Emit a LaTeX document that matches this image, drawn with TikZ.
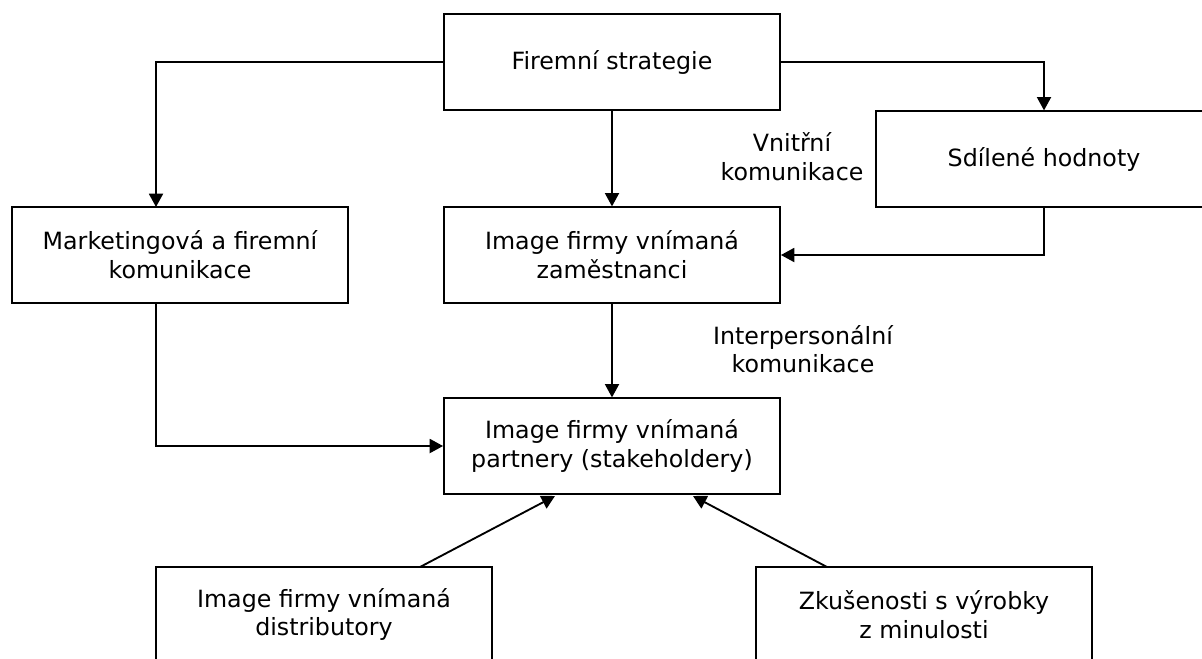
\documentclass[tikz,border=0pt]{standalone}
\usepackage{fontspec}
\setmainfont{DejaVu Sans}
\usetikzlibrary{arrows.meta}
\begin{document}
\begin{tikzpicture}[x=0.75pt,y=-0.75pt,
  boxnode/.style={draw,line width=1.4pt,minimum width=252pt,minimum height=71.5pt,inner sep=0pt,align=center,font=\fontsize{17.8}{21.5}\selectfont},
  lbl/.style={align=center,inner sep=0pt,font=\fontsize{17.8}{21.5}\selectfont},
  arr/.style={line width=1.4pt,-{Triangle[length=10pt,width=10.5pt]}}]
\useasboundingbox (0,0) rectangle (1202,658);
\clip (0,0) rectangle (1202,658);
\fill[white] (0,0) rectangle (1202,658);
\node[boxnode] (fs) at (612,62) {Firemní strategie};
\node[boxnode] (sh) at (1044,159) {Sdílené hodnoty};
\node[boxnode] (mk) at (180,255) {Marketingová a firemní\\komunikace};
\node[boxnode] (iz) at (612,255) {Image firmy vnímaná\\zaměstnanci};
\node[boxnode] (ip) at (612,446) {Image firmy vnímaná\\partnery (stakeholdery)};
\node[boxnode] (id) at (324,614.5) {Image firmy vnímaná\\distributory};
\node[boxnode] (zv) at (924,614.5) {Zkušenosti s výrobky\\z minulosti};
\node[lbl] (vk) at (792,157) {Vnitřní\\komunikace};
\node[lbl] (ik) at (803,349) {Interpersonální\\komunikace};
\coordinate (mkin) at (156,207);
\coordinate (mkout) at (156,303);
\coordinate (ids) at (420,567);
\coordinate (ide) at (555,496);
\coordinate (zvs) at (827,567);
\coordinate (zve) at (693,496);
\draw[arr] (fs.west) -| (mkin);
\draw[arr] (fs.east) -| (sh.north);
\draw[arr] (fs.south) -- (iz.north);
\draw[arr] (sh.south) |- (iz.east);
\draw[arr] (iz.south) -- (ip.north);
\draw[arr] (mkout) |- (ip.west);
\draw[arr] (ids) -- (ide);
\draw[arr] (zvs) -- (zve);
\end{tikzpicture}
\end{document}
